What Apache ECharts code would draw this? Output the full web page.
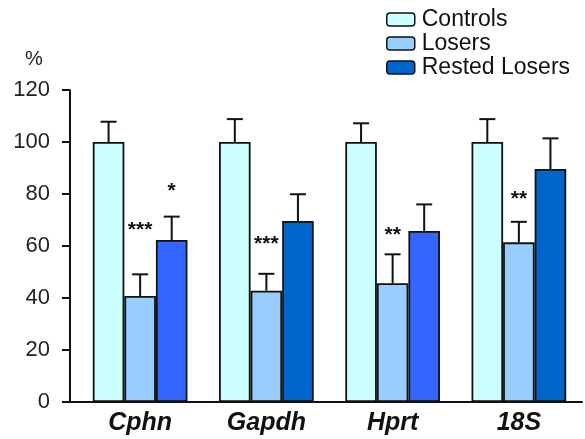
<!DOCTYPE html>
<html><head><meta charset="utf-8">
<script src="https://cdn.jsdelivr.net/npm/echarts@6/dist/echarts.min.js"></script>
<style>html,body{margin:0;padding:0;background:#fff}#c{width:585px;height:439px}</style>
</head><body><div id="c"></div>
<script>
var categories = ['Cphn', 'Gapdh', 'Hprt', '18S'];
var seriesNames = ['Controls', 'Losers', 'Rested Losers'];
var controls = [100, 100, 100, 100];
var losers = [40.8, 42.8, 45.7, 61.4];
var restedLosers = [62.3, 69.6, 65.8, 89.6];
var controlsErrTop = [107.8, 108.8, 107.2, 108.8];
var losersErrTop = [49.1, 49.3, 56.8, 69.3];
var restedErrTop = [71.3, 79.9, 76.0, 101.4];
// significance marks: [category index, series index, y value, text]
var stars = [[0, 1, 66.0, '***'], [0, 2, 81.2, '*'], [1, 1, 60.7, '***'], [2, 1, 64.1, '**'], [3, 1, 78.0, '**']];
var yTicks = {min: 0, max: 120, interval: 20};

var FONT = 'Liberation Sans, Arial, Helvetica, sans-serif';
var seriesColors = ['#ccffff', '#99ccff', '#0066cc'];
var restedColors = ['#3366ff', '#0066cc', '#3366ff', '#0066cc'];

var values = [controls, losers, restedLosers];
var errTops = [controlsErrTop, losersErrTop, restedErrTop];

var errData = [];
for (var s = 0; s < 3; s++) for (var c = 0; c < categories.length; c++) errData.push([c, s, values[s][c], errTops[s][c]]);

function offsetFor(api, s) { var band = api.size([1, 0])[0]; return (s - 1) * band * 0.25; }

var barSeries = seriesNames.map(function (name, s) {
  return {
    name: name, type: 'bar', barWidth: '25%', barGap: '0%',
    itemStyle: {color: seriesColors[s], borderColor: '#111', borderWidth: 1.8},
    data: values[s].map(function (v, i) {
      return s === 2 ? {value: v, itemStyle: {color: restedColors[i]}} : v;
    }),
    z: 2
  };
});

var option = {
  animation: false,
  title: {text: '%', left: 20, top: 44, textStyle: {fontFamily: FONT, fontSize: 20, fontWeight: 'normal', color: '#222'}},
  legend: {
    orient: 'vertical', left: 381, top: 3, itemWidth: 28, itemHeight: 13, itemGap: 1,
    data: seriesNames,
    itemStyle: {borderColor: '#111', borderWidth: 1.5},
    textStyle: {fontFamily: FONT, fontSize: 23, lineHeight: 21, color: '#111', padding: [0, 0, 0, 2]},
    selectedMode: false
  },
  grid: {left: 77, right: 3, top: 90, bottom: 37, containLabel: false},
  xAxis: {
    type: 'category', data: categories,
    axisLine: {lineStyle: {color: '#111', width: 2}},
    axisTick: {show: false},
    axisLabel: {fontFamily: FONT, fontSize: 25, fontWeight: 'bold', fontStyle: 'italic', color: '#111', margin: 9}
  },
  yAxis: {
    type: 'value', min: yTicks.min, max: yTicks.max, interval: yTicks.interval, offset: 7,
    axisLine: {show: true, lineStyle: {color: '#111', width: 2}},
    axisTick: {show: true, length: 8, lineStyle: {color: '#111', width: 2}},
    splitLine: {show: false},
    axisLabel: {fontFamily: FONT, fontSize: 22, color: '#222', margin: 20}
  },
  graphic: [{type: 'line', shape: {x1: 62, y1: 402, x2: 78, y2: 402}, style: {stroke: '#111', lineWidth: 2}}],
  series: barSeries.concat([
    {
      type: 'custom', name: 'err', z: 5, silent: true,
      data: errData,
      renderItem: function (params, api) {
        var c = api.value(0), s = api.value(1);
        var base = api.coord([c, api.value(2)]);
        var top = api.coord([c, api.value(3)]);
        var x = base[0] + offsetFor(api, s);
        var st = {stroke: '#111', lineWidth: 2};
        return {type: 'group', children: [
          {type: 'line', shape: {x1: x, y1: base[1], x2: x, y2: top[1]}, style: st},
          {type: 'line', shape: {x1: x - 8, y1: top[1], x2: x + 8, y2: top[1]}, style: st}
        ]};
      }
    },
    {
      type: 'custom', name: 'stars', z: 6, silent: true,
      data: stars,
      renderItem: function (params, api) {
        var c = api.value(0), s = api.value(1);
        var p = api.coord([c, api.value(2)]);
        return {type: 'text', style: {x: p[0] + offsetFor(api, s), y: p[1], text: stars[params.dataIndex][3],
          font: 'bold 21px ' + FONT, fill: '#111', textAlign: 'center', textVerticalAlign: 'middle'}};
      }
    }
  ])
};
var chart = echarts.init(document.getElementById('c'), null, {renderer: 'canvas'});
chart.setOption(option);
</script></body></html>
